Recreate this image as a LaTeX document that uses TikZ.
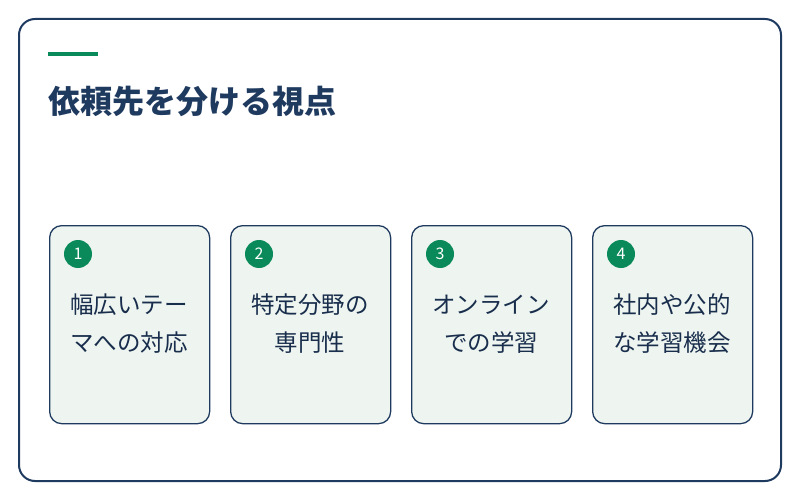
\documentclass[tikz,border=0pt]{standalone}
\usepackage{fontspec}
\setmainfont{Noto Sans CJK JP}
\definecolor{navy}{HTML}{1F3A5F}
\definecolor{grn}{HTML}{0A8A5A}
\definecolor{cardbg}{HTML}{EEF5F0}
\begin{document}
\begin{tikzpicture}[x=1pt,y=-1pt,
  card/.style={draw=navy,line width=1.3pt,fill=cardbg,rounded corners=12pt,minimum width=160pt,minimum height=198pt,anchor=north west},
  badge/.style={circle,fill=grn,text=white,inner sep=0pt,minimum size=28pt,font=\fontsize{16}{16}\selectfont},
  lbl/.style={font=\fontsize{23.5}{38}\selectfont,text=navy!80!black,align=center}]
\useasboundingbox (0,0) rectangle (800,500);
\draw[navy,line width=2pt,rounded corners=16pt] (19,19) rectangle (781,481);
\draw[grn,line width=4pt] (48,54) -- (98,54);
\node[anchor=west,inner sep=0pt,font=\fontsize{32}{32}\selectfont\bfseries,text=navy] (title) at (48,101) {依頼先を分ける視点};
\foreach \i/\x/\t in {1/49/{幅広いテー\\マへの対応},2/230/{特定分野の\\専門性},3/411/{オンライン\\での学習},4/592/{社内や公的\\な学習機会}}{
  \node[card] (c\i) at (\x,225) {};
  \node[badge] (b\i) at (\x+29,254) {\i};
  \node[lbl] (t\i) at (\x+80,324) {\t};
}
\end{tikzpicture}
\end{document}
